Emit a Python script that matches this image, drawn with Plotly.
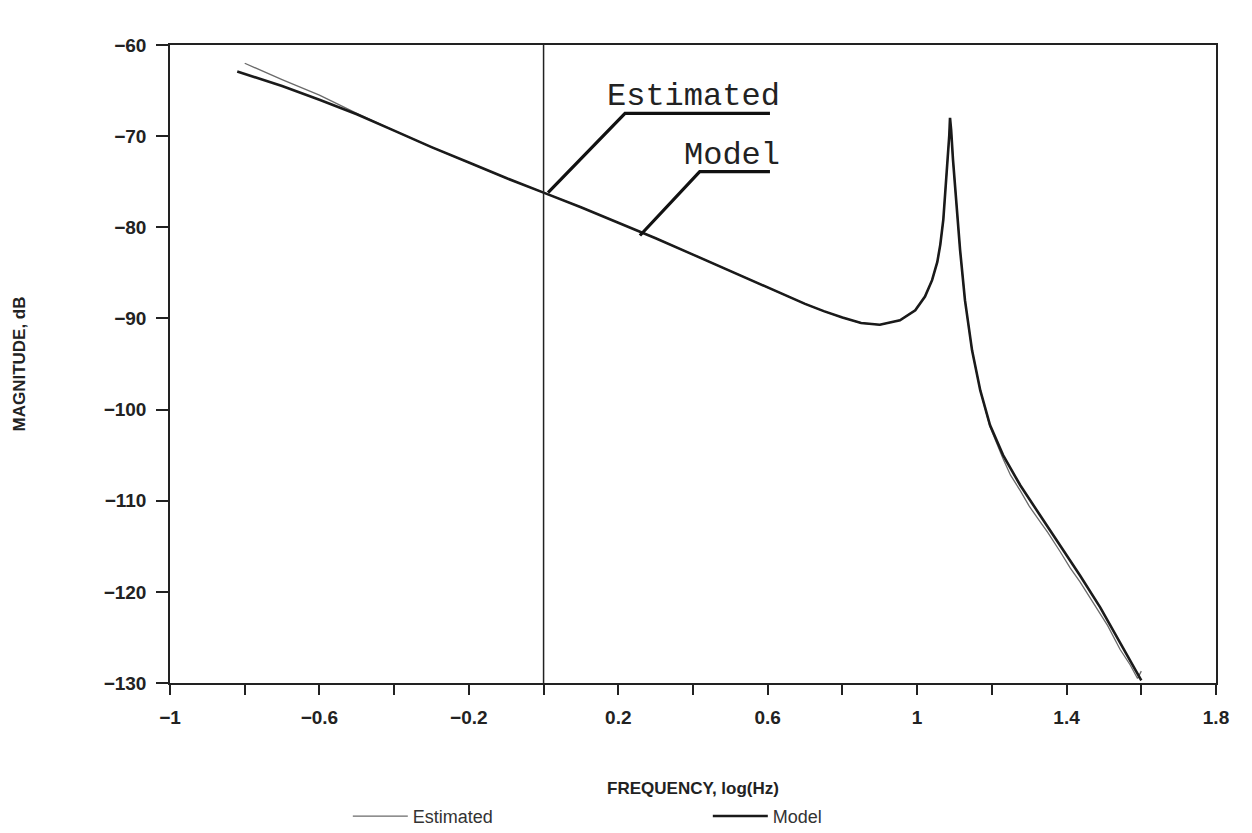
import plotly.graph_objects as go

# Frequency response: magnitude (dB) against log10 frequency (Hz)
model_logf = [-0.82, -0.7, -0.6, -0.5, -0.4, -0.3, -0.2, -0.1, 0.0, 0.1, 0.2, 0.3, 0.4,
              0.5, 0.6, 0.65, 0.7, 0.75, 0.8, 0.85, 0.9, 0.954, 0.995, 1.021, 1.04,
              1.054, 1.062, 1.07, 1.075, 1.08, 1.086, 1.088, 1.091, 1.096, 1.104,
              1.115, 1.128, 1.147, 1.169, 1.195, 1.23, 1.276, 1.329, 1.383, 1.436,
              1.49, 1.543, 1.6]
model_db = [-62.9, -64.5, -66.0, -67.6, -69.4, -71.2, -72.9, -74.6, -76.2, -77.8, -79.5,
            -81.2, -83.0, -84.8, -86.6, -87.5, -88.4, -89.2, -89.9, -90.5, -90.7,
            -90.2, -89.1, -87.6, -85.8, -83.8, -81.9, -79.2, -76.5, -73.2, -69.9,
            -68.0, -69.3, -72.6, -77.0, -82.5, -88.0, -93.5, -97.9, -101.7, -105.0,
            -108.3, -111.6, -114.9, -118.2, -121.7, -125.5, -129.7]

est_logf = [-0.8, -0.7, -0.6, -0.5, -0.4, -0.3, -0.2, -0.1, 0.0, 0.1, 0.2, 0.3, 0.4,
            0.5, 0.6, 0.65, 0.7, 0.75, 0.8, 0.85, 0.9, 0.954, 0.995, 1.021, 1.04,
            1.054, 1.062, 1.07, 1.075, 1.08, 1.086, 1.088, 1.091, 1.096, 1.104,
            1.115, 1.128, 1.147, 1.169, 1.195, 1.23, 1.25, 1.276, 1.30, 1.329, 1.35,
            1.383, 1.41, 1.436, 1.46, 1.49, 1.51, 1.543, 1.57, 1.59, 1.6]
est_db = [-62.0, -63.8, -65.5, -67.5, -69.4, -71.2, -72.9, -74.6, -76.2, -77.8, -79.5,
          -81.2, -83.0, -84.8, -86.6, -87.5, -88.4, -89.2, -89.9, -90.5, -90.7,
          -90.2, -89.1, -87.6, -85.8, -83.8, -81.9, -79.2, -76.5, -73.2, -70.0,
          -68.3, -69.4, -72.6, -77.0, -82.5, -88.0, -93.5, -97.9, -101.9, -105.4,
          -107.2, -108.9, -110.6, -112.3, -113.5, -115.6, -117.4, -118.9, -120.5,
          -122.5, -123.7, -126.3, -128.0, -129.5, -128.7]

x_ticks = [-1.0, -0.8, -0.6, -0.4, -0.2, 0.0, 0.2, 0.4, 0.6, 0.8, 1.0, 1.2, 1.4, 1.6, 1.8]
x_labels = ["\u22121", "", "\u22120.6", "", "\u22120.2", "", "0.2", "", "0.6", "", "1",
            "", "1.4", "", "1.8"]
y_ticks = [-60, -70, -80, -90, -100, -110, -120, -130]

# Callout labels and their leader lines (data coordinates)
callout_text = ["Estimated", "Model"]
callout_pos = [(0.400, -65.6), (0.505, -72.1)]
callout_leaders = [
    [(0.012, -76.2), (0.218, -67.5), (0.606, -67.5)],
    [(0.258, -80.9), (0.418, -73.9), (0.606, -73.9)],
]

fig = go.Figure()
fig.add_trace(go.Scatter(x=est_logf, y=est_db, mode="lines", name="Estimated",
                         line=dict(color="#6a6a6a", width=1.3)))
fig.add_trace(go.Scatter(x=model_logf, y=model_db, mode="lines", name="Model",
                         line=dict(color="#1a1a1a", width=2.6)))

# vertical reference line at log(f) = 0
fig.add_shape(type="line", x0=0, x1=0, y0=-130, y1=-60, xref="x", yref="y",
              line=dict(color="#222", width=1.5))

for pts in callout_leaders:
    path = "M " + " L ".join(f"{px},{py}" for px, py in pts)
    fig.add_shape(type="path", path=path, xref="x", yref="y",
                  line=dict(color="#111", width=3.2))

for txt, (tx, ty) in zip(callout_text, callout_pos):
    fig.add_annotation(x=tx, y=ty, text=txt, showarrow=False, xref="x", yref="y",
                       font=dict(family="Liberation Mono", size=32, color="#222"))

axis_font = dict(family="Liberation Sans", size=19, color="#222", weight="bold")
title_font = dict(family="Liberation Sans", size=17, color="#222", weight="bold")

fig.update_xaxes(range=[-1, 1.8], tickmode="array", tickvals=x_ticks, ticktext=x_labels,
                 ticks="outside", ticklen=10, tickwidth=1.5, tickcolor="#222",
                 ticklabelstandoff=6, automargin=False,
                 showline=True, linecolor="#222", linewidth=1.5, mirror=True,
                 showgrid=False, zeroline=False, tickfont=axis_font,
                 title=dict(text="FREQUENCY, log(Hz)", standoff=69, font=title_font))
fig.update_yaxes(range=[-130, -60], tickmode="array", tickvals=y_ticks,
                 ticks="outside", ticklen=12, tickwidth=1.5, tickcolor="#222",
                 ticklabelstandoff=6, automargin=False,
                 showline=True, linecolor="#222", linewidth=1.5, mirror=True,
                 showgrid=False, zeroline=False, tickfont=axis_font,
                 title=dict(text="MAGNITUDE, dB", standoff=74, font=title_font))

fig.update_layout(
    width=1252, height=833,
    margin=dict(l=170, r=36, t=45, b=150),
    paper_bgcolor="white", plot_bgcolor="white",
    legend=dict(orientation="h", x=0.17, y=0.02, xanchor="left", yanchor="middle",
                yref="container",
                entrywidth=290, entrywidthmode="pixels", itemwidth=55,
                font=dict(family="Liberation Sans", size=18, color="#333")),
)

fig.write_html("out.html")
